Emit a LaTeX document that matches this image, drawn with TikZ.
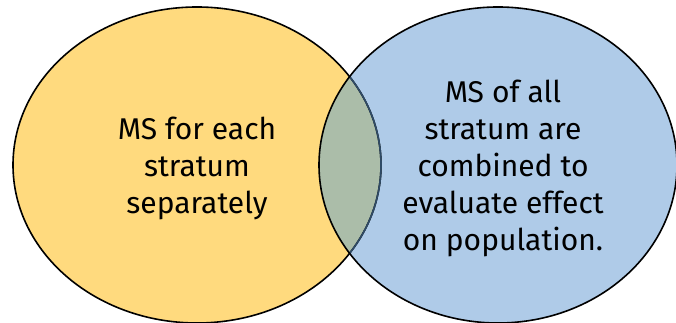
\documentclass[tikz,border=0pt]{standalone}
\usepackage{fontspec}
\setmainfont{Fira Sans}
\begin{document}
\begin{tikzpicture}[x=1pt,y=1pt,
  venntext/.style={align=center, font=\fontsize{30}{37}\selectfont, text=black, inner sep=0pt},
  rim/.style={line width=1.6pt}]
\definecolor{setA}{HTML}{FFDA7E}
\definecolor{setB}{HTML}{AFCBE8}
\definecolor{both}{HTML}{ABBDA9}
\definecolor{rimB}{HTML}{2F4B66}
\useasboundingbox (0,0) rectangle (676,323);
% the two sets
\fill[setA] (197,158) ellipse [x radius=184, y radius=158];
\fill[setB] (498,158) ellipse [x radius=179, y radius=158];
% common part
\begin{scope}
  \clip (197,158) ellipse [x radius=184, y radius=158];
  \fill[both] (498,158) ellipse [x radius=179, y radius=158];
\end{scope}
% outlines
\draw[rim] (197,158) ellipse [x radius=184, y radius=158];
\begin{scope}
  \clip (498,158) ellipse [x radius=179, y radius=158];
  \draw[rim, rimB] (197,158) ellipse [x radius=184, y radius=158];
\end{scope}
\draw[rim] (498,158) ellipse [x radius=179, y radius=158];
% labels
\node[venntext] (left) at (197,155) {MS for each\\stratum\\separately};
\node[venntext] (right) at (503,155) {MS of all\\stratum are\\combined to\\evaluate effect\\on population.};
\end{tikzpicture}
\end{document}
